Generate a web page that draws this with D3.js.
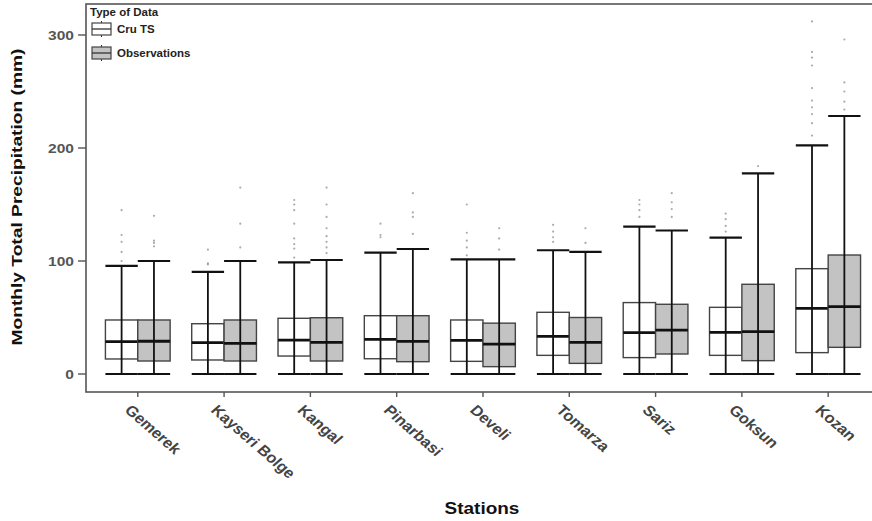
<!DOCTYPE html>
<html><head><meta charset="utf-8">
<script src="https://cdn.jsdelivr.net/npm/d3@7"></script>
<style>body{margin:0;background:#fff}svg{display:block}text{font-family:"Liberation Sans",Arial,sans-serif}</style>
</head><body><svg id="c" width="872" height="521"></svg>
<script>
const stations = ["Gemerek","Kayseri Bolge","Kangal","Pinarbasi","Develi","Tomarza","Sariz","Goksun","Kozan"];
const types = ["Cru TS","Observations"];
const yTicks = [0,100,200,300];
// Cru TS
const cruLow = [0,0,0,0,0,0,0,0,0];
const cruQ1  = [13.3,12.4,15.9,13.5,11.2,16.5,14.5,16.5,18.9];
const cruMed = [28.6,27.7,30.0,30.7,29.8,33.3,36.6,36.9,58.1];
const cruQ3  = [47.8,44.5,49.3,51.6,47.8,54.6,63.2,59.0,93.2];
const cruHigh= [95.6,90.3,98.8,107.4,101.5,109.5,130.4,120.6,202.4];
const cruOut = [[100,108,117,123,145],[97,98,110],[103,111,115,120,133,145,150,154],[121,123,133],[105,112,118,125,150],[117,121,126,132],[139,145,150,154],[126,131,137,142],[211,222,230,236,242,253,273,280,285,312]];
// Observations
const obsLow = [0,0,0,0,0,0,0,0,0];
const obsQ1  = [11.5,11.5,11.5,10.9,6.5,9.4,17.7,11.8,23.6];
const obsMed = [29.0,27.1,28.0,28.9,26.5,28.0,38.9,37.5,59.6];
const obsQ3  = [47.8,47.8,49.8,51.6,45.0,50.0,61.7,79.4,105.3];
const obsHigh= [100.0,100.0,100.9,110.6,101.5,108.0,127.0,177.6,228.3];
const obsOut = [[113,116,118,140],[112,133,165],[107,112,117,122,129,139,150,165],[124,139,143,160],[110,120,129],[116,129],[139,146,152,160],[184],[234,241,250,258,296]];

const svg = d3.select("#c");
const L = 86, T = 4, B = 392;
const R = L + 86.3*9.2;
const SX = 1.15; // horizontal text stretch seen in the reference
const x = d3.scalePoint().domain(stations).range([L, R]).padding(0.6);
const step = x.step();
const dodge = d3.scaleBand().domain(types).range([-0.375*step, 0.375*step]);
const y = d3.scaleLinear().domain([0,300]).range([374, 35]);

const series = [
  {t:"Cru TS", low:cruLow,q1:cruQ1,med:cruMed,q3:cruQ3,high:cruHigh,out:cruOut,fill:"#ffffff"},
  {t:"Observations", low:obsLow,q1:obsQ1,med:obsMed,q3:obsQ3,high:obsHigh,out:obsOut,fill:"#c3c3c3"}
];

const g = svg.append("g");
series.forEach(s => {
  stations.forEach((st,i) => {
    const x0 = x(st) + dodge(s.t), w = dodge.bandwidth(), cx = x0 + w/2;
    s.out[i].forEach(v => g.append("circle").attr("cx",cx).attr("cy",y(v)).attr("r",1.1).attr("fill","#888").attr("opacity",0.7));
    g.append("rect").attr("x",x0).attr("y",y(s.q3[i])).attr("width",w).attr("height",y(s.q1[i])-y(s.q3[i]))
      .attr("fill",s.fill).attr("stroke","#444").attr("stroke-width",1.4);
    g.append("line").attr("x1",cx).attr("x2",cx).attr("y1",y(s.low[i])).attr("y2",y(s.high[i])).attr("stroke","#111").attr("stroke-width",1.8);
    g.append("line").attr("x1",x0).attr("x2",x0+w).attr("y1",y(s.high[i])).attr("y2",y(s.high[i])).attr("stroke","#111").attr("stroke-width",2.2);
    g.append("line").attr("x1",x0).attr("x2",x0+w).attr("y1",y(s.low[i])).attr("y2",y(s.low[i])).attr("stroke","#111").attr("stroke-width",1.8);
    g.append("line").attr("x1",x0).attr("x2",x0+w).attr("y1",y(s.med[i])).attr("y2",y(s.med[i])).attr("stroke","#111").attr("stroke-width",2.8);
  });
});

svg.append("rect").attr("x",L).attr("y",T).attr("width",R-L).attr("height",B-T).attr("fill","none").attr("stroke","#555").attr("stroke-width",1.6);

const ya = svg.append("g");
yTicks.forEach(v => {
  ya.append("line").attr("x1",L-8).attr("x2",L).attr("y1",y(v)).attr("y2",y(v)).attr("stroke","#555").attr("stroke-width",1.4);
  ya.append("text").attr("transform",`translate(${L-12},${y(v)}) scale(${SX},1)`).attr("dy","0.36em").attr("text-anchor","end")
    .attr("font-size",13.5).attr("font-weight","bold").attr("fill","#555").text(v);
});
stations.forEach(st => {
  svg.append("line").attr("x1",x(st)).attr("x2",x(st)).attr("y1",B).attr("y2",B+5).attr("stroke","#555").attr("stroke-width",1.4);
  svg.append("text").attr("transform",`translate(${x(st)-14},${B+19}) scale(${SX},1) rotate(45)`)
    .attr("font-size",14.5).attr("font-weight","bold").attr("fill","#444").text(st);
});
svg.append("text").attr("transform",`translate(482,514) scale(${SX},1)`).attr("text-anchor","middle").attr("font-size",16.5).attr("font-weight","bold").attr("fill","#111").text("Stations");
svg.append("text").attr("transform","translate(22,197) rotate(-90)").attr("text-anchor","middle").attr("font-size",14.5).attr("font-weight","bold").attr("fill","#111")
  .attr("textLength",297).attr("lengthAdjust","spacingAndGlyphs").text("Monthly Total Precipitation (mm)");

const lg = svg.append("g");
lg.append("text").attr("transform",`translate(90,16) scale(${SX},1)`).attr("font-size",10).attr("font-weight","bold").attr("fill","#222").text("Type of Data");
series.forEach((s,k) => {
  const cy = 29 + k*24;
  lg.append("line").attr("x1",101.5).attr("x2",101.5).attr("y1",cy-8).attr("y2",cy+8).attr("stroke","#333").attr("stroke-width",1);
  lg.append("rect").attr("x",92).attr("y",cy-6).attr("width",19).attr("height",12).attr("fill",s.fill).attr("stroke","#444").attr("stroke-width",1.2);
  lg.append("line").attr("x1",92).attr("x2",111).attr("y1",cy).attr("y2",cy).attr("stroke","#333").attr("stroke-width",1.3);
  lg.append("text").attr("transform",`translate(117,${cy+3.5}) scale(${SX},1)`).attr("font-size",10).attr("font-weight","bold").attr("fill","#222").text(s.t);
});
</script></body></html>
